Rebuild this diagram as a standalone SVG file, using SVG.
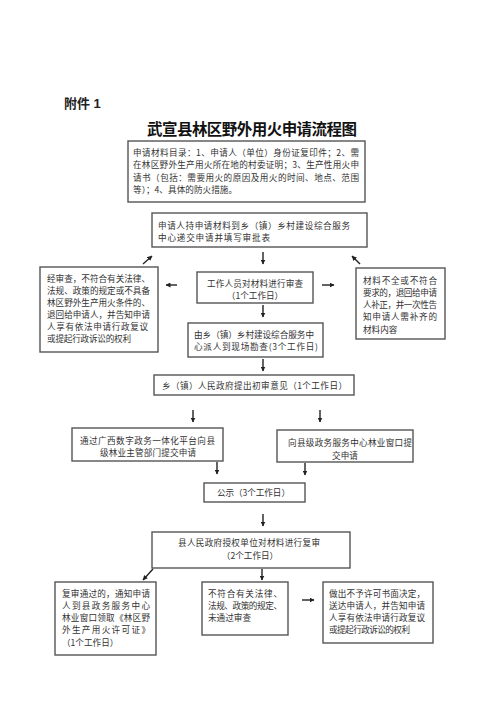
<svg xmlns="http://www.w3.org/2000/svg" width="500" height="707" viewBox="0 0 500 707">
<defs>
<style>
.bg{fill:#ffffff}
.box{fill:#ffffff;stroke:#555555;stroke-width:1.4}
.t{font-family:"Noto Sans CJK SC","Liberation Serif",serif;font-size:8.6px;fill:#333333;dominant-baseline:central}
.c{text-anchor:middle}
.hdr{font-family:"Liberation Sans","Noto Sans CJK SC",sans-serif;font-size:13px;fill:#222222;font-weight:bold;dominant-baseline:central}
.title{font-family:"Noto Sans CJK SC",serif;font-size:15.5px;fill:#111111;font-weight:bold;dominant-baseline:central}
.ar{stroke:#222222;stroke-width:1.4;fill:none;marker-end:url(#ah)}
</style>
<marker id="ah" viewBox="0 0 10 10" refX="9" refY="5" markerWidth="5" markerHeight="5" orient="auto" markerUnits="userSpaceOnUse">
<path d="M0,0 L10,5 L0,10 Z" fill="#222222"/>
</marker>
</defs>
<rect class="bg" x="0" y="0" width="500" height="707"/>

<text class="hdr" x="64" y="103">附件 1</text>
<text class="title" x="147" y="128" textLength="210" lengthAdjust="spacing">武宣县林区野外用火申请流程图</text>

<g id="materials">
<rect class="box" x="128" y="141" width="237" height="61"/>
<text class="t" x="133" y="152" textLength="226" lengthAdjust="spacing">申请材料目录：1、申请人（单位）身份证复印件；2、需</text>
<text class="t" x="133" y="164.3" textLength="226" lengthAdjust="spacing">在林区野外生产用火所在地的村委证明；3、生产性用火申</text>
<text class="t" x="133" y="176.6" textLength="226" lengthAdjust="spacing">请书（包括：需要用火的原因及用火的时间、地点、范围</text>
<text class="t" x="133" y="188.9" textLength="104" lengthAdjust="spacing">等）；4、具体的防火措施。</text>
</g>

<g id="submit">
<rect class="box" x="152" y="213" width="215" height="34"/>
<text class="t" x="158" y="225" textLength="192" lengthAdjust="spacing">申请人持申请材料到乡（镇）乡村建设综合服务</text>
<text class="t" x="158" y="237" textLength="112" lengthAdjust="spacing">中心递交申请并填写审批表</text>
</g>

<g id="reject-left">
<rect class="box" x="40" y="267" width="118" height="85"/>
<text class="t" x="47" y="278" textLength="103" lengthAdjust="spacing">经审查，不符合有关法律、</text>
<text class="t" x="47" y="290" textLength="103" lengthAdjust="spacing">法规、政策的规定或不具备</text>
<text class="t" x="47" y="302" textLength="103" lengthAdjust="spacing">林区野外生产用火条件的、</text>
<text class="t" x="47" y="314" textLength="103" lengthAdjust="spacing">退回给申请人，并告知申请</text>
<text class="t" x="47" y="326" textLength="101" lengthAdjust="spacing">人享有依法申请行政复议</text>
<text class="t" x="47" y="338" textLength="84" lengthAdjust="spacing">或提起行政诉讼的权利</text>
</g>

<g id="review">
<rect class="box" x="197" y="272" width="116" height="31"/>
<text class="t c" x="255" y="283" textLength="96" lengthAdjust="spacing">工作人员对材料进行审查</text>
<text class="t c" x="255" y="295">（1个工作日）</text>
</g>

<g id="supplement">
<rect class="box" x="356" y="268" width="89" height="71"/>
<text class="t" x="363" y="280" textLength="74" lengthAdjust="spacing">材料不全或不符合</text>
<text class="t" x="363" y="292" textLength="74" lengthAdjust="spacing">要求的，退回给申请</text>
<text class="t" x="363" y="304" textLength="74" lengthAdjust="spacing">人补正，并一次性告</text>
<text class="t" x="363" y="316" textLength="74" lengthAdjust="spacing">知申请人需补齐的</text>
<text class="t" x="363" y="329">材料内容</text>
</g>

<g id="survey">
<rect class="box" x="188" y="323" width="135" height="34"/>
<text class="t" x="194" y="334" textLength="120" lengthAdjust="spacing">由乡（镇）乡村建设综合服务中</text>
<text class="t" x="194" y="346" textLength="124" lengthAdjust="spacing">心派人到现场勘查(3个工作日)</text>
</g>

<g id="initial-opinion">
<rect class="box" x="154" y="375" width="200" height="20"/>
<text class="t" x="162" y="385" textLength="185" lengthAdjust="spacing">乡（镇）人民政府提出初审意见（1个工作日）</text>
</g>

<g id="online">
<rect class="box" x="72" y="428" width="151" height="33"/>
<text class="t" x="80" y="440" textLength="135" lengthAdjust="spacing">通过广西数字政务一体化平台向县</text>
<text class="t c" x="148" y="452" textLength="96" lengthAdjust="spacing">级林业主管部门提交申请</text>
</g>

<g id="window">
<rect class="box" x="277" y="430" width="136" height="32"/>
<text class="t" x="288" y="442" textLength="124" lengthAdjust="spacing">向县级政务服务中心林业窗口提</text>
<text class="t c" x="345" y="455">交申请</text>
</g>

<g id="publicity">
<rect class="box" x="204" y="483" width="101" height="19"/>
<text class="t" x="217" y="492" textLength="73" lengthAdjust="spacing">公示（3个工作日）</text>
</g>

<g id="recheck">
<rect class="box" x="152" y="532" width="198" height="36"/>
<text class="t" x="178" y="542" textLength="142" lengthAdjust="spacing">县人民政府授权单位对材料进行复审</text>
<text class="t c" x="250" y="555">（2个工作日）</text>
</g>

<g id="approved">
<rect class="box" x="55" y="582" width="101" height="73"/>
<text class="t" x="62" y="593" textLength="88" lengthAdjust="spacing">复审通过的，通知申请</text>
<text class="t" x="62" y="605" textLength="88" lengthAdjust="spacing">人到县政务服务中心</text>
<text class="t" x="62" y="617" textLength="88" lengthAdjust="spacing">林业窗口领取《林区野</text>
<text class="t" x="62" y="629" textLength="88" lengthAdjust="spacing">外生产用火许可证》</text>
<text class="t" x="62" y="642">（1个工作日）</text>
</g>

<g id="not-passed">
<rect class="box" x="202" y="582" width="86" height="53"/>
<text class="t" x="208" y="593" textLength="74" lengthAdjust="spacing">不符合有关法律、</text>
<text class="t" x="208" y="605" textLength="74" lengthAdjust="spacing">法规、政策的规定、</text>
<text class="t" x="208" y="617">未通过审查</text>
</g>

<g id="denial">
<rect class="box" x="323" y="582" width="110" height="61"/>
<text class="t" x="329" y="593" textLength="96" lengthAdjust="spacing">做出不予许可书面决定，</text>
<text class="t" x="329" y="605" textLength="96" lengthAdjust="spacing">送达申请人，并告知申请</text>
<text class="t" x="329" y="617" textLength="96" lengthAdjust="spacing">人享有依法申请行政复议</text>
<text class="t" x="329" y="629" textLength="81" lengthAdjust="spacing">或提起行政诉讼的权利</text>
</g>

<g id="connectors">
<line class="ar" x1="263" y1="252" x2="263" y2="264"/>
<line class="ar" x1="143" y1="264" x2="152" y2="256"/>
<line class="ar" x1="360" y1="264" x2="352" y2="256"/>
<line class="ar" x1="177" y1="285" x2="166" y2="285"/>
<line class="ar" x1="322" y1="285" x2="334" y2="285"/>
<line class="ar" x1="263" y1="305" x2="263" y2="317"/>
<line class="ar" x1="263" y1="359" x2="263" y2="371"/>
<line class="ar" x1="193" y1="410" x2="193" y2="422"/>
<line class="ar" x1="320" y1="410" x2="320" y2="422"/>
<line class="ar" x1="217" y1="462" x2="217" y2="474"/>
<line class="ar" x1="305" y1="463" x2="305" y2="475"/>
<line class="ar" x1="263" y1="514" x2="263" y2="526"/>
<line class="ar" x1="153" y1="569" x2="143" y2="580"/>
<line class="ar" x1="262" y1="569" x2="262" y2="580"/>
<line class="ar" x1="302" y1="600" x2="314" y2="600"/>
</g>
</svg>
